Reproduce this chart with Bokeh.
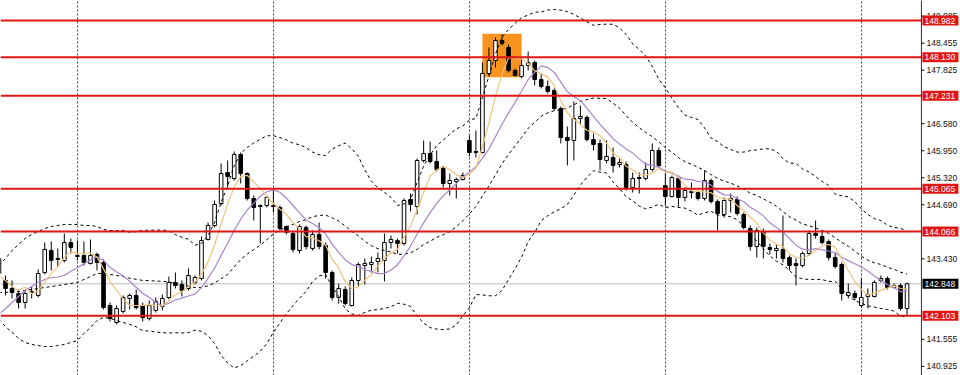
import numpy as np
import pandas as pd
from bokeh.plotting import figure
from bokeh.models import Range1d, FixedTicker, Grid, ColumnDataSource
from bokeh.core.properties import value
from bokeh.embed import file_html
from bokeh.resources import INLINE

# ---- H4 candles (USDJPY-style quotes) ----
open_ = [143.089, 142.926, 142.740, 142.623, 142.413, 142.646, 142.576, 143.112, 143.625, 143.439,
         143.392, 143.811, 143.508, 143.508, 143.322, 143.532, 143.345, 142.343, 141.947, 142.204,
         142.507, 142.576, 142.343, 142.041, 142.227, 142.320, 142.530, 142.879, 142.833, 142.740,
         142.879, 142.973, 143.881, 144.207, 144.720, 145.442, 145.303, 145.862, 145.419, 144.837,
         144.673, 144.673, 144.673, 144.627, 144.184, 144.021, 143.625, 144.161, 143.672, 143.998,
         143.741, 143.112, 142.530, 142.716, 142.343, 142.926, 143.275, 143.299, 143.369, 143.392,
         143.811, 143.858, 143.788, 144.813, 144.650, 145.722, 145.885, 145.699, 145.536, 145.186,
         145.233, 145.279, 146.188, 145.932, 145.908, 147.749, 148.052, 148.518, 148.355, 147.819,
         147.679, 147.935, 148.005, 147.609, 147.446, 147.353, 146.934, 146.258, 146.188, 146.701,
         146.724, 146.211, 146.118, 145.722, 145.792, 145.629, 145.629, 145.093, 145.326, 145.303,
         145.512, 145.955, 145.139, 144.883, 145.303, 144.860, 145.000, 144.976, 144.837, 145.256,
         144.767, 144.464, 144.790, 144.813, 144.464, 144.138, 143.718, 144.068, 143.695, 143.625,
         143.648, 143.462, 143.322, 143.275, 143.555, 144.021, 143.951, 143.835, 143.462, 143.299,
         142.576, 142.623, 142.343, 142.553, 142.553, 142.926, 142.973, 142.763, 142.809, 142.274]
high = [143.508, 143.042, 142.926, 142.716, 142.716, 142.786, 143.182, 143.811, 143.835, 143.672,
        144.021, 143.905, 143.858, 143.835, 143.881, 143.578, 143.415, 142.413, 142.343, 142.576,
        142.623, 142.716, 142.413, 142.460, 142.530, 142.600, 143.019, 143.112, 142.926, 143.206,
        143.042, 143.951, 144.277, 144.790, 145.652, 145.722, 145.932, 145.908, 145.442, 144.906,
        144.697, 144.906, 145.070, 144.673, 144.207, 144.068, 144.231, 144.207, 144.091, 144.277,
        143.811, 143.159, 142.856, 142.786, 142.996, 143.345, 143.439, 143.485, 143.578, 144.021,
        143.974, 143.905, 144.837, 144.953, 145.769, 146.188, 146.165, 145.955, 145.582, 145.419,
        145.326, 145.442, 146.304, 146.421, 148.005, 148.355, 148.588, 148.658, 148.425, 147.866,
        148.099, 148.262, 148.052, 147.749, 147.586, 147.400, 146.980, 146.514, 147.097, 147.003,
        146.770, 146.351, 146.211, 146.188, 146.025, 145.769, 145.699, 145.442, 145.442, 145.675,
        146.118, 146.025, 145.419, 145.372, 145.372, 145.093, 145.209, 145.023, 145.489, 145.303,
        144.813, 144.860, 144.953, 144.883, 144.510, 144.207, 144.161, 144.138, 143.788, 143.765,
        144.440, 143.508, 143.439, 143.602, 144.091, 144.324, 144.091, 143.881, 143.578, 143.345,
        142.856, 142.693, 142.973, 142.740, 142.926, 143.042, 143.019, 142.856, 142.856, 142.879]
low = [142.973, 142.576, 142.507, 142.274, 142.274, 142.507, 142.530, 143.066, 143.159, 143.252,
       143.345, 143.555, 143.392, 143.275, 143.299, 143.159, 142.250, 141.971, 141.901, 142.157,
       142.250, 142.250, 141.971, 141.994, 142.180, 142.227, 142.483, 142.740, 142.553, 142.693,
       142.833, 142.926, 143.858, 144.161, 144.673, 145.093, 145.256, 145.186, 144.790, 144.324,
       143.788, 144.627, 144.510, 144.091, 143.998, 143.578, 143.555, 143.648, 143.625, 143.648,
       142.973, 142.460, 142.390, 142.343, 142.320, 142.786, 142.833, 143.112, 143.112, 142.903,
       143.672, 143.555, 143.741, 144.534, 144.464, 145.675, 145.652, 145.466, 145.093, 144.906,
       144.837, 145.256, 145.815, 145.792, 145.885, 147.702, 147.889, 148.401, 147.772, 147.679,
       147.633, 147.819, 147.469, 147.400, 147.283, 146.887, 146.118, 145.605, 145.722, 146.561,
       146.165, 145.955, 145.489, 145.652, 145.442, 145.559, 145.023, 144.976, 144.953, 145.256,
       145.466, 145.559, 144.673, 144.860, 144.627, 144.767, 144.837, 144.790, 144.790, 144.720,
       144.091, 144.394, 144.510, 144.440, 144.114, 143.625, 143.462, 143.439, 143.532, 143.439,
       143.345, 143.159, 142.809, 143.229, 143.508, 143.905, 143.765, 143.392, 143.206, 142.460,
       142.507, 142.460, 142.297, 142.274, 142.530, 142.879, 142.716, 142.740, 142.227, 142.087]
close = [143.439, 142.740, 142.646, 142.413, 142.623, 142.670, 143.089, 143.648, 143.392, 143.415,
         143.811, 143.695, 143.485, 143.345, 143.508, 143.345, 142.297, 142.041, 142.274, 142.530,
         142.576, 142.297, 142.064, 142.343, 142.437, 142.507, 142.879, 142.809, 142.693, 143.042,
         142.996, 143.858, 144.207, 144.697, 145.419, 145.349, 145.862, 145.419, 144.837, 144.627,
         144.650, 144.860, 144.650, 144.138, 144.044, 143.648, 144.184, 143.718, 143.998, 143.718,
         143.112, 142.530, 142.740, 142.390, 142.926, 143.299, 143.322, 143.345, 143.439, 143.811,
         143.881, 143.788, 144.790, 144.697, 145.722, 145.885, 145.699, 145.512, 145.186, 145.256,
         145.279, 145.372, 145.908, 145.908, 147.749, 148.052, 148.518, 148.448, 147.819, 147.702,
         147.935, 148.005, 147.609, 147.446, 147.330, 146.934, 146.258, 146.188, 146.701, 146.747,
         146.211, 146.095, 145.745, 145.815, 145.605, 145.675, 145.093, 145.303, 145.303, 145.512,
         145.955, 145.605, 144.883, 145.326, 144.860, 145.023, 144.976, 144.837, 145.256, 144.767,
         144.487, 144.790, 144.837, 144.487, 144.161, 143.718, 144.091, 143.718, 143.648, 143.672,
         143.439, 143.275, 143.275, 143.555, 144.021, 143.974, 143.811, 143.462, 143.252, 142.623,
         142.646, 142.530, 142.530, 142.600, 142.879, 142.973, 142.763, 142.809, 142.274, 142.848]

# bars that open a new week (vertical grid)
week_starts = [12, 42, 72, 102, 132]

# indicator values on the first bars, before the rolling windows fill up
bb_upper_head = [143.275, 143.439, 143.625, 143.765, 143.905, 143.998, 144.068, 144.138, 144.184, 144.207,
                 144.231, 144.231, 144.231, 144.207, 144.207, 144.184, 144.114, 144.091, 144.091]
bb_mid_head = [142.646, 142.646, 142.670, 142.670, 142.693, 142.716, 142.740, 142.763, 142.786, 142.809,
               142.833, 142.856, 142.879, 142.949, 143.019, 143.089, 143.089, 143.066, 143.042]
bb_lower_head = [142.017, 141.853, 141.715, 141.575, 141.481, 141.434, 141.412, 141.388, 141.388, 141.411,
                 141.435, 141.481, 141.527, 141.691, 141.831, 141.994, 142.064, 142.041, 141.993]
ma10_head = [142.134, 142.274, 142.413, 142.553, 142.693, 142.786, 142.879, 142.949, 142.996]
ma5_head = [143.042, 142.926, 142.786, 142.693]

# horizontal support / resistance levels and current bid
levels = [148.982, 148.130, 147.231, 145.065, 144.066, 142.103]
bid = 142.848

# highlighted zone around the top
zone_start, zone_end = 74, 80
zone_low, zone_high = 147.663, 148.674

# price-scale labels
axis_ticks = [140.925, 141.555, 143.430, 144.690, 145.320, 145.950, 146.580, 147.825, 148.455, 149.085]

# ---- indicators ----
cl = pd.Series(close)
ma5 = cl.rolling(5).mean().to_numpy()
ma10 = cl.rolling(10).mean().to_numpy()
mid = cl.rolling(20).mean()
sd = cl.rolling(20).std(ddof=0)
upper = (mid + 2 * sd).to_numpy()
lower = (mid - 2 * sd).to_numpy()
mid = mid.to_numpy()
ma5[:len(ma5_head)] = ma5_head
ma10[:len(ma10_head)] = ma10_head
upper[:len(bb_upper_head)] = bb_upper_head
mid[:len(bb_mid_head)] = bb_mid_head
lower[:len(bb_lower_head)] = bb_lower_head

o = np.array(open_)
c = np.array(close)
h = np.array(high)
l = np.array(low)
idx = np.arange(len(c))
up = c >= o

# the canvas spans chart area + price scale; one pixel in bar units
W, H = 960, 375
x_lo, x_hi = 0.23, 147.18
y_lo, y_hi = 140.712, 149.45
px = (x_hi - x_lo) / W
scale_x = 141.2          # bar coordinate of the price-scale line

p = figure(width=W, height=H, output_backend="svg", toolbar_location=None,
           x_range=Range1d(x_lo, x_hi), y_range=Range1d(y_lo, y_hi),
           x_axis_type=None, y_axis_type=None, min_border=0)
p.outline_line_color = None
p.background_fill_color = "white"
p.border_fill_color = "white"

# highlighted zone (behind the bars)
p.quad(left=[zone_start], right=[zone_end], bottom=[zone_low], top=[zone_high],
       fill_color="#F7931E", line_color=None, level="underlay")

grid = Grid(dimension=0, ticker=FixedTicker(ticks=week_starts),
            grid_line_color="#404040", grid_line_dash="2 2", grid_line_width=1)
p.add_layout(grid)

# bid line
p.segment(x0=[x_lo], y0=[bid], x1=[scale_x], y1=[bid], line_color="#BDBDBD", line_width=1)

# candles
p.segment(x0=idx, y0=h, x1=idx, y1=l, line_color="black", line_width=1)
up_src = ColumnDataSource(dict(x=idx[up], top=c[up], bottom=o[up]))
dn_src = ColumnDataSource(dict(x=idx[~up], top=o[~up], bottom=c[~up]))
p.vbar(x="x", top="top", bottom="bottom", width=0.55, source=up_src,
       fill_color="white", line_color="black", line_width=1)
p.vbar(x="x", top="top", bottom="bottom", width=0.55, source=dn_src,
       fill_color="black", line_color="black", line_width=1)

# Bollinger bands (20, 2)
for band in (upper, mid, lower):
    p.line(idx, band, line_color="black", line_width=1, line_dash="3 3")
# moving averages
p.line(idx, ma10, line_color="#A985CC", line_width=1.2)
p.line(idx, ma5, line_color="#EFC27F", line_width=1.2)

# support / resistance levels
p.segment(x0=[x_lo] * len(levels), y0=levels, x1=[scale_x] * len(levels), y1=levels,
          line_color="#E01616", line_width=2)

# ---- price scale ----
p.segment(x0=[scale_x], y0=[y_lo], x1=[scale_x], y1=[y_hi], line_color="#303030", line_width=1)
p.segment(x0=[scale_x] * len(axis_ticks), y0=axis_ticks,
          x1=[scale_x + 3 * px] * len(axis_ticks), y1=axis_ticks,
          line_color="black", line_width=1)
p.text(x=[scale_x + 5 * px] * len(axis_ticks), y=axis_ticks,
       text=[f"{t:.3f}" for t in axis_ticks], text_font=value("Liberation Sans"),
       text_font_size="8.5px", text_color="#111111",
       text_align="left", text_baseline="middle")

# level tags on the price scale
tag_y = levels + [bid]
tag_col = ["#E01616"] * len(levels) + ["#000000"]
tag_w = 36
p.rect(x=[scale_x + (1 + tag_w / 2) * px] * len(tag_y), y=tag_y,
       width=tag_w, height=10, width_units="screen", height_units="screen",
       fill_color=tag_col, line_color=None)
p.text(x=[scale_x + 3 * px] * len(tag_y), y=tag_y,
       text=[f"{t:.3f}" for t in tag_y], text_font=value("Liberation Sans"),
       text_font_size="8.5px", text_color="white",
       text_align="left", text_baseline="middle")

open("out.html", "w").write(file_html(p, INLINE))
